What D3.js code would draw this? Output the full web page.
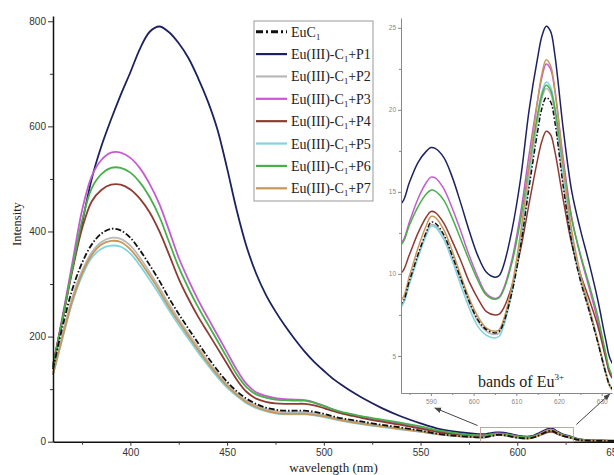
<!DOCTYPE html>
<html lang="en">
<head>
<meta charset="UTF-8">
<title>Eu(III) emission spectra</title>
<script src="https://d3js.org/d3.v7.min.js"></script>
<style>
  body { margin: 0; background: #fff; }
</style>
</head>
<body>
<div id="chart"></div>
<script>
// wavelength grid (nm) - coarse over the broad band, finer where the Eu3+ bands are
var wavelength = [360,365,370,375,380,385,390,395,400,405,410,415,420,425,430,435,440,445,450,455,
  460,465,470,475,480,485,490,495,500,505,510,515,520,530,540,550,560,570,580,
  583,585,587,589,590,591,593,595,597,599,601,603,605,606,607,609,611,613,615,616,617,618,619,621,623,625,627,629,631,632,
  635,640,645,650];

var euC1 = [138,220,290,340,375,396,405,402,388,364,336,306,273,243,215,188,161,136,114,96,
  82,72,65,61,59,59,59,57,53,48,44,41,38,32,27,21,14.5,10.5,8.4,
  8.2,9.6,11.2,12.6,13.15,13.1,12.4,11.1,9.7,8.3,7.2,6.6,6.4,6.5,7.0,8.9,11.7,15.3,18.7,20.1,20.75,20.5,19.3,15.3,11.9,9.6,7.8,5.9,3.9,3.15,
  2.4,1.8,1.5,1.3];
var p1 = [142,235,330,415,500,562,613,660,703,748,780,790,779,758,730,692,648,594,520,440,
  372,320,280,248,220,195,172,152,135,119,106,94,83,64,48,35,24,18,14.6,
  14.3,15.6,16.8,17.5,17.7,17.65,17.1,15.9,14.3,12.6,11.1,10.1,9.8,9.9,10.5,12.7,15.8,20.0,23.2,24.5,25.1,24.8,23.4,18.8,15.0,12.7,10.7,8.5,5.9,4.8,
  3.6,2.6,2.2,2.0];
var p2 = [130,205,275,325,360,380,388,386,373,350,322,293,262,233,206,180,154,130,109,92,
  78,69,62,58,56,56,56,54,50,46,42,39,36,30,25,20,14,10.3,8.3,
  8.1,9.5,11.1,12.5,13.0,12.95,12.3,11.0,9.6,8.2,7.1,6.5,6.3,6.4,7.0,9.0,11.9,15.7,19.3,20.7,21.3,21.0,19.8,15.6,12.0,9.6,7.8,5.9,3.9,3.1,
  2.4,1.8,1.5,1.3];
var p3 = [145,240,340,440,505,536,550,550,540,520,490,452,402,350,308,270,236,203,170,137,
  110,94,87,83,81,80,79,75,68,61,55,51,47,40,34,27,20,15,12.0,
  11.9,13.2,14.6,15.6,15.9,15.85,15.2,14.0,12.6,11.1,9.8,8.8,8.5,8.6,9.1,10.9,13.7,17.3,20.6,22.0,22.8,22.5,21.2,17.0,13.4,11.1,9.2,7.2,4.9,3.9,
  2.9,2.2,1.8,1.6];
var p4 = [146,235,325,405,457,479,489,489,480,462,436,400,356,310,272,238,208,178,148,118,
  95,82,76,73,72,72,72,69,64,58,53,49,45,38,32,25,18,13,10.2,
  10.05,11.2,12.5,13.5,13.8,13.75,13.1,12.0,10.8,9.5,8.5,7.7,7.5,7.55,7.9,9.3,11.5,14.3,17.0,18.1,18.7,18.5,17.5,14.5,11.8,10.0,8.5,6.9,4.8,3.85,
  2.9,2.2,1.8,1.6];
var p5 = [127,198,265,315,350,367,373,371,358,335,308,280,250,222,196,170,146,123,103,87,
  73,64,58,54,52,52,52,50,47,43,39,36,33,28,23,18.5,13.5,10,8.1,
  8.0,9.4,11.0,12.4,12.9,12.85,12.1,10.8,9.3,7.9,6.8,6.25,6.1,6.2,6.8,8.9,12.0,16.0,19.8,21.1,21.7,21.4,20.2,16.0,12.3,9.9,8.0,6.0,4.0,3.2,
  2.4,1.8,1.5,1.3];
var p6 = [143,235,330,420,482,509,521,521,512,493,465,428,380,332,292,256,224,192,160,128,
  104,90,84,80,79,78,78,74,68,61,56,52,48,42,36,29,21,15.5,12.0,
  11.8,13.0,14.1,14.9,15.1,15.05,14.5,13.4,12.1,10.8,9.6,8.7,8.45,8.55,9.0,10.7,13.3,16.6,19.7,20.9,21.5,21.2,20.1,16.6,13.3,11.2,9.4,7.5,5.1,4.05,
  3.0,2.3,1.9,1.7];
var p7 = [128,200,268,320,355,375,382,380,366,343,316,287,256,228,201,175,150,127,106,89,
  75,66,59,55,53,53,53,51,48,44,40,37,34,29,24,19,14,10.5,8.5,
  8.4,9.9,11.6,13.0,13.5,13.45,12.7,11.4,9.9,8.5,7.4,6.7,6.5,6.6,7.2,9.3,12.5,16.6,20.6,22.2,23.05,22.7,21.3,16.6,12.6,10.0,8.0,6.0,3.9,3.1,
  2.3,1.7,1.4,1.2];

var seriesNames = ["EuC1", "Eu(III)-C1+P1", "Eu(III)-C1+P2", "Eu(III)-C1+P3", "Eu(III)-C1+P4",
  "Eu(III)-C1+P5", "Eu(III)-C1+P6", "Eu(III)-C1+P7"];
var seriesValues = [euC1, p1, p2, p3, p4, p5, p6, p7];
var seriesColors = ["#111111", "#1c2260", "#b9b9b9", "#c45cd0", "#8e3b33", "#80d4de", "#47b04a", "#c9965a"];

var xTicks = [400, 450, 500, 550, 600, 650];
var xMinor = [375, 425, 475, 525, 575, 625];
var yTicks = [0, 200, 400, 600, 800];
var yMinor = [100, 300, 500, 700];
var insetXTicks = [590, 600, 610, 620, 630];
var insetXMinor = [585, 595, 605, 615, 625];
var insetYTicks = [5, 10, 15, 20, 25];
var insetYMinor = [7.5, 12.5, 17.5, 22.5];

var width = 614, height = 475;
var sans = "Liberation Sans, Arial, sans-serif";
var serif = "Liberation Serif, Times New Roman, serif";

var svg = d3.select("#chart")
  .append("svg")
  .attr("width", width)
  .attr("height", height);

var x = d3.scaleLinear().domain([360, 650]).range([53, 614]);
var y = d3.scaleLinear().domain([0, 810]).range([441.7, 16]);

var series = seriesNames.map(function(name, i) {
  return {
    name: name,
    color: seriesColors[i],
    dashed: i == 0,
    points: wavelength.map(function(w, j) { return [w, seriesValues[i][j]]; })
  };
});
// draw the dash-dot reference on top
var drawOrder = series.slice(1).concat([series[0]]);

var line = d3.line()
  .x(function(d) { return x(d[0]); })
  .y(function(d) { return y(d[1]); })
  .curve(d3.curveCatmullRom.alpha(0.5));

svg.append("g")
  .selectAll("path")
  .data(drawOrder)
  .enter()
  .append("path")
  .attr("d", function(d) { return line(d.points); })
  .attr("fill", "none")
  .attr("stroke", function(d) { return d.color; })
  .attr("stroke-width", 1.8)
  .attr("stroke-dasharray", function(d) { return d.dashed ? "6,2,1.5,2" : null; });

// main axes
function styleAxis(g, color, fontSize) {
  g.selectAll("text").attr("font-family", sans).attr("font-size", fontSize).attr("fill", color);
  g.selectAll("line").attr("stroke", color);
  g.select(".domain").attr("stroke", color);
}

var gx = svg.append("g")
  .attr("transform", "translate(0," + y(0) + ")")
  .call(d3.axisBottom(x).tickValues(xTicks).tickSize(4).tickSizeOuter(0).tickPadding(3));
styleAxis(gx, "#333", "10px");
gx.select(".domain").attr("stroke", "#111").attr("stroke-width", 1.5);

svg.append("g")
  .attr("transform", "translate(0," + y(0) + ")")
  .call(d3.axisBottom(x).tickValues(xMinor).tickSize(3).tickFormat(""))
  .call(function(g) { g.select(".domain").remove(); g.selectAll("line").attr("stroke", "#333"); });

var gy = svg.append("g")
  .attr("transform", "translate(" + x(360) + ",0)")
  .call(d3.axisLeft(y).tickValues(yTicks).tickSize(5).tickSizeOuter(0).tickPadding(2));
styleAxis(gy, "#333", "10px");
gy.select(".domain").attr("stroke", "#111").attr("stroke-width", 1.5);

svg.append("g")
  .attr("transform", "translate(" + x(360) + ",0)")
  .call(d3.axisLeft(y).tickValues(yMinor).tickSize(3).tickFormat(""))
  .call(function(g) { g.select(".domain").remove(); g.selectAll("line").attr("stroke", "#333"); });

svg.append("text")
  .attr("x", (x(360) + x(650)) / 2)
  .attr("y", 472)
  .attr("text-anchor", "middle")
  .attr("font-family", serif)
  .attr("font-size", "13px")
  .attr("fill", "#222")
  .text("wavelength (nm)");

svg.append("text")
  .attr("transform", "translate(21,224) rotate(-90)")
  .attr("text-anchor", "middle")
  .attr("font-family", serif)
  .attr("font-size", "12.5px")
  .attr("fill", "#222")
  .text("Intensity");

// zoom box on the main plot and arrows to the inset
var defs = svg.append("defs");
defs.append("marker")
  .attr("id", "arrow")
  .attr("viewBox", "0 0 10 10")
  .attr("refX", 9).attr("refY", 5)
  .attr("markerWidth", 7).attr("markerHeight", 7)
  .attr("orient", "auto")
  .append("path")
  .attr("d", "M0,1 L10,5 L0,9 z")
  .attr("fill", "#444");

svg.append("rect")
  .attr("x", x(581))
  .attr("y", y(27))
  .attr("width", x(629) - x(581))
  .attr("height", y(0) - y(27))
  .attr("fill", "none")
  .attr("stroke", "#c9a2a0")
  .attr("stroke-width", 1);

// inset
var xi = d3.scaleLinear().domain([583, 632.4]).range([401, 612]);
var yi = d3.scaleLinear().domain([2.74, 25.6]).range([393, 18]);

svg.append("path")
  .attr("d", "M" + (x(581) - 3) + "," + (y(27) - 2) + " L" + (xi(590) + 4) + "," + (yi(2.74) + 15))
  .attr("stroke", "#444").attr("stroke-width", 1).attr("marker-end", "url(#arrow)");
svg.append("path")
  .attr("d", "M" + (x(629) + 3) + "," + (y(27) - 3) + " L" + (xi(630) + 8) + "," + (yi(2.74) + 1))
  .attr("stroke", "#444").attr("stroke-width", 1).attr("marker-end", "url(#arrow)");

defs.append("clipPath")
  .attr("id", "insetClip")
  .append("rect")
  .attr("x", xi(583)).attr("y", yi(25.6))
  .attr("width", xi(632.4) - xi(583)).attr("height", yi(2.74) - yi(25.6));

svg.append("rect")
  .attr("x", xi(583)).attr("y", yi(25.6))
  .attr("width", xi(632.4) - xi(583)).attr("height", yi(2.74) - yi(25.6))
  .attr("fill", "#fff");

var insetLine = d3.line()
  .x(function(d) { return xi(d[0]); })
  .y(function(d) { return yi(d[1]); })
  .curve(d3.curveCatmullRom.alpha(0.5));

svg.append("g")
  .attr("clip-path", "url(#insetClip)")
  .selectAll("path")
  .data(drawOrder)
  .enter()
  .append("path")
  .attr("d", function(d) {
    return insetLine(d.points.filter(function(p) { return p[0] >= 580 && p[0] <= 635; }));
  })
  .attr("fill", "none")
  .attr("stroke", function(d) { return d.color; })
  .attr("stroke-width", 1.5)
  .attr("stroke-dasharray", function(d) { return d.dashed ? "5,2,1.5,2" : null; });

var gxi = svg.append("g")
  .attr("transform", "translate(0," + yi(2.74) + ")")
  .call(d3.axisBottom(xi).tickValues(insetXTicks).tickSize(3).tickSizeOuter(0).tickPadding(3));
styleAxis(gxi, "#888", "6.5px");
svg.append("g")
  .attr("transform", "translate(0," + yi(2.74) + ")")
  .call(d3.axisBottom(xi).tickValues(insetXMinor).tickSize(2).tickFormat(""))
  .call(function(g) { g.select(".domain").remove(); g.selectAll("line").attr("stroke", "#888"); });

var gyi = svg.append("g")
  .attr("transform", "translate(" + xi(583) + ",0)")
  .call(d3.axisLeft(yi).tickValues(insetYTicks).tickSize(3).tickSizeOuter(0).tickPadding(2));
styleAxis(gyi, "#888", "6.5px");
svg.append("g")
  .attr("transform", "translate(" + xi(583) + ",0)")
  .call(d3.axisLeft(yi).tickValues(insetYMinor).tickSize(2).tickFormat(""))
  .call(function(g) { g.select(".domain").remove(); g.selectAll("line").attr("stroke", "#888"); });

var bands = svg.append("text")
  .attr("x", 478)
  .attr("y", 387)
  .attr("font-family", serif)
  .attr("font-size", "16px")
  .attr("fill", "#222");
bands.append("tspan").text("bands of Eu");
bands.append("tspan").attr("font-size", "9px").attr("dy", -7).text("3+");

// legend
var legend = svg.append("g");
legend.append("rect")
  .attr("x", 254).attr("y", 21)
  .attr("width", 119).attr("height", 180)
  .attr("fill", "#fff")
  .attr("stroke", "#999");

var rows = legend.selectAll("g.row")
  .data(series)
  .enter()
  .append("g")
  .attr("class", "row")
  .attr("transform", function(d, i) { return "translate(0," + (31.7 + i * 22.37) + ")"; });

rows.append("line")
  .attr("x1", 256).attr("x2", 287)
  .attr("y1", 0).attr("y2", 0)
  .attr("stroke", function(d) { return d.color; })
  .attr("stroke-width", function(d) { return d.dashed ? 3 : 2.2; })
  .attr("stroke-dasharray", function(d) { return d.dashed ? "7,3,2,3" : null; });

rows.each(function(d) {
  var t = d3.select(this).append("text")
    .attr("x", 291)
    .attr("y", 5)
    .attr("font-family", serif)
    .attr("font-size", "14px")
    .attr("fill", "#222");
  var parts = d.name.split("C1");
  t.append("tspan").text(parts[0] + "C");
  t.append("tspan").attr("font-size", "8.5px").attr("dy", 3).text("1");
  if (parts[1]) t.append("tspan").attr("dy", -3).text(parts[1]);
});
</script>
</body>
</html>
